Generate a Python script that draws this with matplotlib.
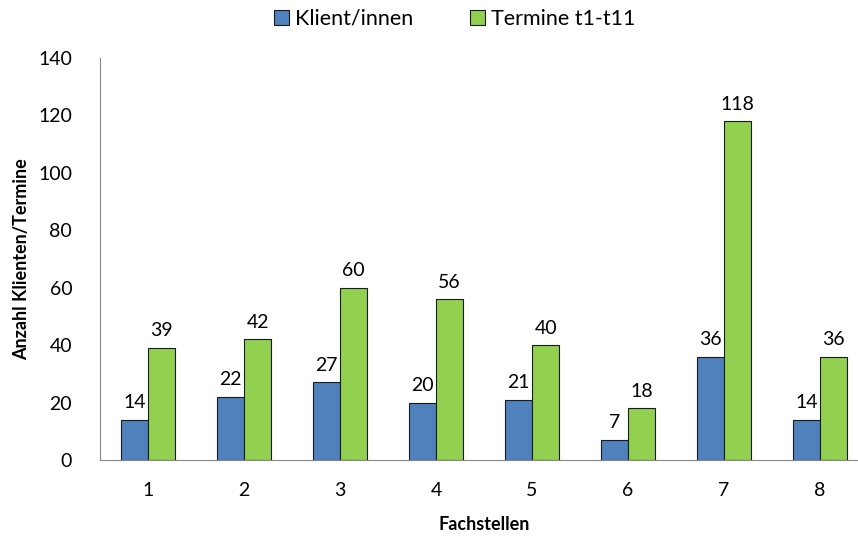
import matplotlib
matplotlib.use("Agg")
import matplotlib.pyplot as plt
import numpy as np

plt.rcParams['font.family'] = ['Lato', 'DejaVu Sans']

fachstellen = ["1", "2", "3", "4", "5", "6", "7", "8"]
klienten = [14, 22, 27, 20, 21, 7, 36, 14]
termine = [39, 42, 60, 56, 40, 18, 118, 36]

blau = '#4F81BD'
gruen = '#92D050'

fig = plt.figure(figsize=(8.58, 5.39), dpi=100)
ax = fig.add_axes([100 / 858, 79 / 539, 768 / 858, 402 / 539])

x = np.arange(1, len(fachstellen) + 1)
w = 0.285
b1 = ax.bar(x - w / 2, klienten, w, color=blau, edgecolor='#1a1a1a', linewidth=0.8, label='Klient/innen')
b2 = ax.bar(x + w / 2, termine, w, color=gruen, edgecolor='#1a1a1a', linewidth=0.8, label='Termine t1-t11')

for bars in (b1, b2):
    for r in bars:
        ax.text(r.get_x() + r.get_width() / 2, r.get_height() + 3, str(int(r.get_height())),
                ha='center', va='bottom', fontsize=14)

ax.set_xlim(0.5, 8.5)
ax.set_ylim(0, 140)
ax.set_yticks(range(0, 141, 20))
ax.set_xticks(x)
ax.set_xticklabels(fachstellen)
ax.tick_params(axis='both', length=0, labelsize=14)
ax.tick_params(axis='x', pad=16)
ax.tick_params(axis='y', pad=20)

for s in ('top', 'right'):
    ax.spines[s].set_visible(False)
for s in ('left', 'bottom'):
    ax.spines[s].set_color('#868686')

ax.set_xlabel('Fachstellen', fontsize=13, fontweight='bold', labelpad=12)
ax.set_ylabel('Anzahl Klienten/Termine', fontsize=13, fontweight='bold', labelpad=6)

fig.legend(loc='upper center', bbox_to_anchor=(0.53, 1.02), ncol=2, frameon=False,
           fontsize=15.5, handlelength=0.7, handleheight=0.7, handletextpad=0.3, columnspacing=2.6)

fig.savefig('out.png', dpi=100)
